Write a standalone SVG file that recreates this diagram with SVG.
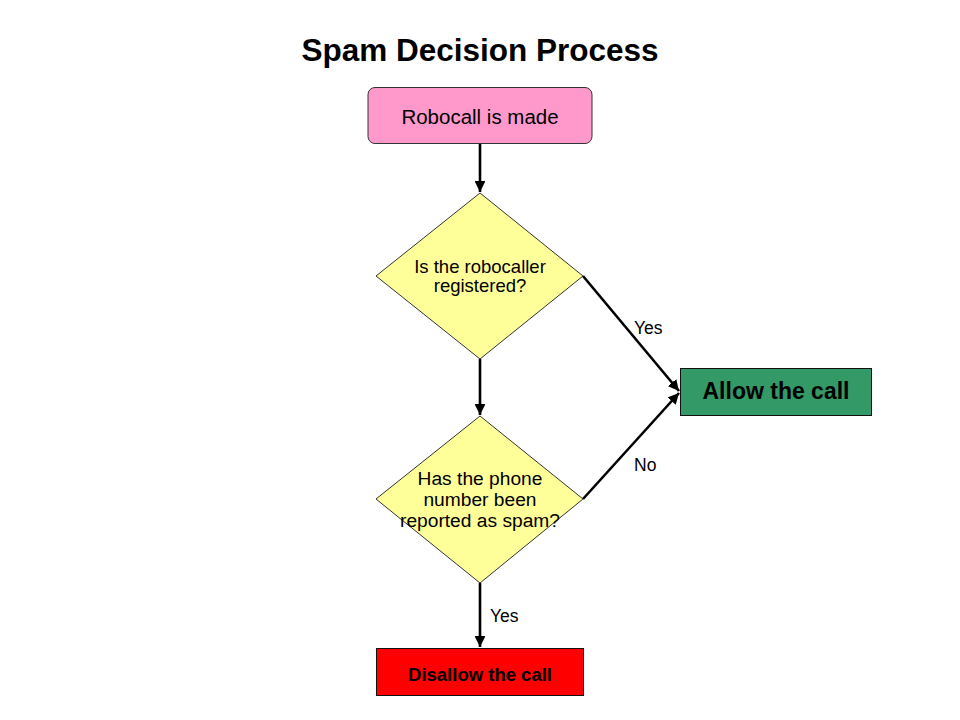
<svg xmlns="http://www.w3.org/2000/svg" width="960" height="720" viewBox="0 0 960 720">
<style>
text{font-family:"Liberation Sans",Arial,sans-serif;fill:#000;text-anchor:middle}
.title{font-size:31.5px;font-weight:bold}
.lbl{font-size:17.5px;text-anchor:start}
.conn{stroke:#000;stroke-width:2.6;fill:none}
.shape{stroke:#333;stroke-width:1}
</style>
<defs>
<marker id="ah" viewBox="0 0 10 10" refX="10" refY="5" markerWidth="4.2" markerHeight="4.2" markerUnits="strokeWidth" orient="auto">
<path d="M0,0 L10,5 L0,10 z" fill="#000"/>
</marker>
</defs>
<rect width="960" height="720" fill="#fff"/>
<text class="title" x="480" y="61">Spam Decision Process</text>
<g id="connectors">
<line class="conn" x1="480" y1="143" x2="480" y2="192" marker-end="url(#ah)"/>
<line class="conn" x1="480" y1="359" x2="480" y2="415" marker-end="url(#ah)"/>
<line class="conn" x1="480" y1="583" x2="480" y2="647" marker-end="url(#ah)"/>
<line class="conn" x1="583" y1="276" x2="679" y2="391" marker-end="url(#ah)"/>
<line class="conn" x1="583" y1="499" x2="679" y2="393" marker-end="url(#ah)"/>
<text class="lbl" x="634" y="334">Yes</text>
<text class="lbl" x="634" y="471">No</text>
<text class="lbl" x="490" y="622">Yes</text>
</g>
<g id="start">
<rect class="shape" x="368" y="87.5" width="224" height="56" rx="7" fill="#FF99CC"/>
<text x="480" y="124" style="font-size:20.5px">Robocall is made</text>
</g>
<g id="decision1">
<polygon class="shape" points="480,193 583,276 480,359 376,276" fill="#FFFF99"/>
<text x="480" y="273" style="font-size:18.5px">Is the robocaller</text>
<text x="480" y="292" style="font-size:18.5px">registered?</text>
</g>
<g id="decision2">
<polygon class="shape" points="480,416 583,499 480,583 376,499" fill="#FFFF99"/>
<text x="480" y="485" style="font-size:19.2px">Has the phone</text>
<text x="480" y="506" style="font-size:19.2px">number been</text>
<text x="480" y="527" style="font-size:19.2px">reported as spam?</text>
</g>
<g id="allow">
<rect x="680.5" y="368.5" width="191" height="47" fill="#339966" stroke="#111" stroke-width="1"/>
<text x="776" y="399" style="font-size:23px;font-weight:bold">Allow the call</text>
</g>
<g id="disallow">
<rect x="376.5" y="648.5" width="207" height="47" fill="#FF0000" stroke="#111" stroke-width="1"/>
<text x="480" y="681" style="font-size:18.5px;font-weight:bold">Disallow the call</text>
</g>
</svg>
